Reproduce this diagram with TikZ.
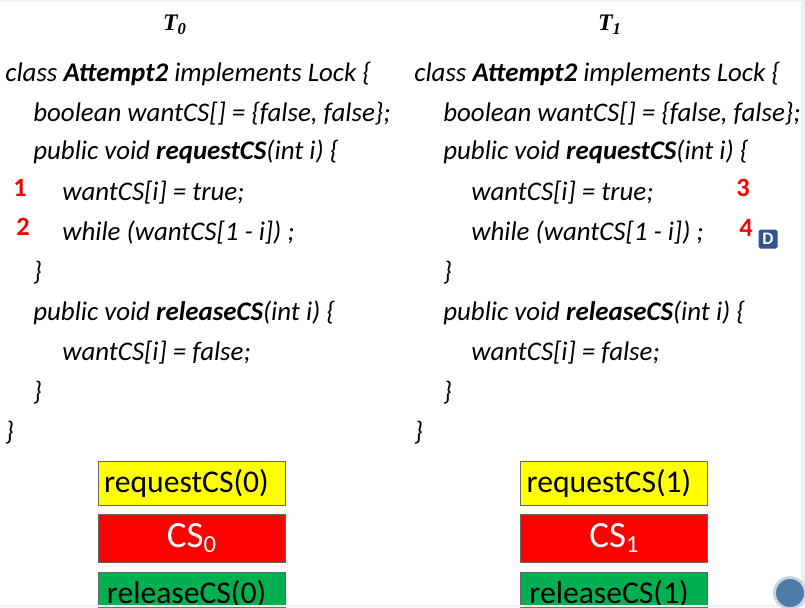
\documentclass[tikz,border=0pt]{standalone}
\usepackage{fontspec}
\setmainfont{Carlito}
\newfontfamily\titlefont{Liberation Serif}
\definecolor{edgetint}{HTML}{EAF4F1}
\definecolor{boxyellow}{HTML}{FFFF00}
\definecolor{boxred}{HTML}{FF0000}
\definecolor{boxgreen}{HTML}{00B050}
\definecolor{badgeblue}{HTML}{2F5597}
\definecolor{discblue}{HTML}{4F7BA8}
\definecolor{discrim}{HTML}{C5D5E2}
\newcommand{\hl}[1]{\textbf{#1}}
\newcommand{\lowidx}[1]{\raisebox{-0.32ex}{\fontsize{14}{16}\selectfont #1}}
\newcommand{\shifted}[1]{#1\hspace{0.2cm}\null}
\begin{document}
\begin{tikzpicture}[
  code line/.style={anchor=base west,inner sep=0pt,font=\fontsize{15.3}{18}\selectfont\itshape},
  thread title/.style={inner sep=0pt,font=\fontsize{13.5}{15}\selectfont\titlefont\bfseries\itshape},
  step num/.style={inner sep=0pt,text=red,font=\fontsize{15}{18}\selectfont},
  block/.style={draw=gray!80!black,line width=0.4pt,minimum width=3.74cm,inner sep=0pt,font=\fontsize{18}{22}\selectfont}]
  \useasboundingbox (0,0) rectangle (16.1,12.14);
  \clip (0,0) rectangle (16.1,12.14);
  \node[thread title] (t0) at (3.5,11.64)  {T\textsubscript{0}};
  \node[thread title] (t1) at (12.2,11.64) {T\textsubscript{1}};
  % left column
  \node[code line] (l1)  at (0.1,10.5)   {class \hl{Attempt2} implements Lock \{};
  \node[code line] (l2)  at (0.66,9.72)  {boolean wantCS[] = \{false, false\};};
  \node[code line] (l3)  at (0.66,8.94)  {public void \hl{requestCS}(int i) \{};
  \node[code line] (l4)  at (1.24,8.14)  {wantCS[i] = true;};
  \node[code line] (l5)  at (1.24,7.34)  {while (wantCS[1 - i]) ;};
  \node[code line] (l6)  at (0.66,6.54)  {\}};
  \node[code line] (l7)  at (0.66,5.74)  {public void \hl{releaseCS}(int i) \{};
  \node[code line] (l8)  at (1.24,4.94)  {wantCS[i] = false;};
  \node[code line] (l9)  at (0.66,4.14)  {\}};
  \node[code line] (l10) at (0.1,3.34)   {\}};
  % right column
  \node[code line] (r1)  at (8.28,10.5)  {class \hl{Attempt2} implements Lock \{};
  \node[code line] (r2)  at (8.86,9.72)  {boolean wantCS[] = \{false, false\};};
  \node[code line] (r3)  at (8.86,8.94)  {public void \hl{requestCS}(int i) \{};
  \node[code line] (r4)  at (9.42,8.14)  {wantCS[i] = true;};
  \node[code line] (r5)  at (9.42,7.34)  {while (wantCS[1 - i]) ;};
  \node[code line] (r6)  at (8.86,6.54)  {\}};
  \node[code line] (r7)  at (8.86,5.74)  {public void \hl{releaseCS}(int i) \{};
  \node[code line] (r8)  at (9.42,4.94)  {wantCS[i] = false;};
  \node[code line] (r9)  at (8.86,4.14)  {\}};
  \node[code line] (r10) at (8.28,3.34)  {\}};
  % order of steps
  \node[step num] (s1) at (0.4,8.38)   {\textbf{1}};
  \node[step num] (s2) at (0.46,7.6)   {\textbf{2}};
  \node[step num] (s3) at (14.86,8.38) {\textbf{3}};
  \node[step num] (s4) at (14.92,7.58) {\textbf{4}};
  \node[fill=badgeblue,rounded corners=1pt,text=white,inner sep=0pt,minimum size=0.38cm,
    font=\fontsize{10}{11}\selectfont\bfseries] (dl) at (15.36,7.36) {D};
  % boxes
  \node[block,fill=boxyellow,minimum height=0.88cm] (req0) at (3.83,2.48) {\shifted{requestCS(0)}};
  \node[block,fill=boxred,text=white,minimum height=0.96cm,font=\fontsize{21}{24}\selectfont] (cs0) at (3.83,1.38) {CS\lowidx{0}};
  \node[block,fill=boxgreen,minimum height=0.88cm] (rel0) at (3.83,0.26) {\shifted{releaseCS(0)}};
  \node[block,fill=boxyellow,minimum height=0.88cm] (req1) at (12.28,2.48) {\shifted{requestCS(1)}};
  \node[block,fill=boxred,text=white,minimum height=0.96cm,font=\fontsize{21}{24}\selectfont] (cs1) at (12.28,1.38) {CS\lowidx{1}};
  \node[block,fill=boxgreen,minimum height=0.88cm] (rel1) at (12.28,0.26) {\shifted{releaseCS(1)}};
  % slide edges and corner disc
  \fill[edgetint] (0,12.09) rectangle (16.1,12.14);
  \fill[edgetint] (16.02,0) rectangle (16.1,12.14);
  \fill[edgetint] (0,0) rectangle (16.1,0.05);
  \node[circle,draw=discrim,line width=1.6pt,fill=discblue,minimum size=0.62cm,inner sep=0pt] (disc) at (15.8,0.28) {};
\end{tikzpicture}
\end{document}
